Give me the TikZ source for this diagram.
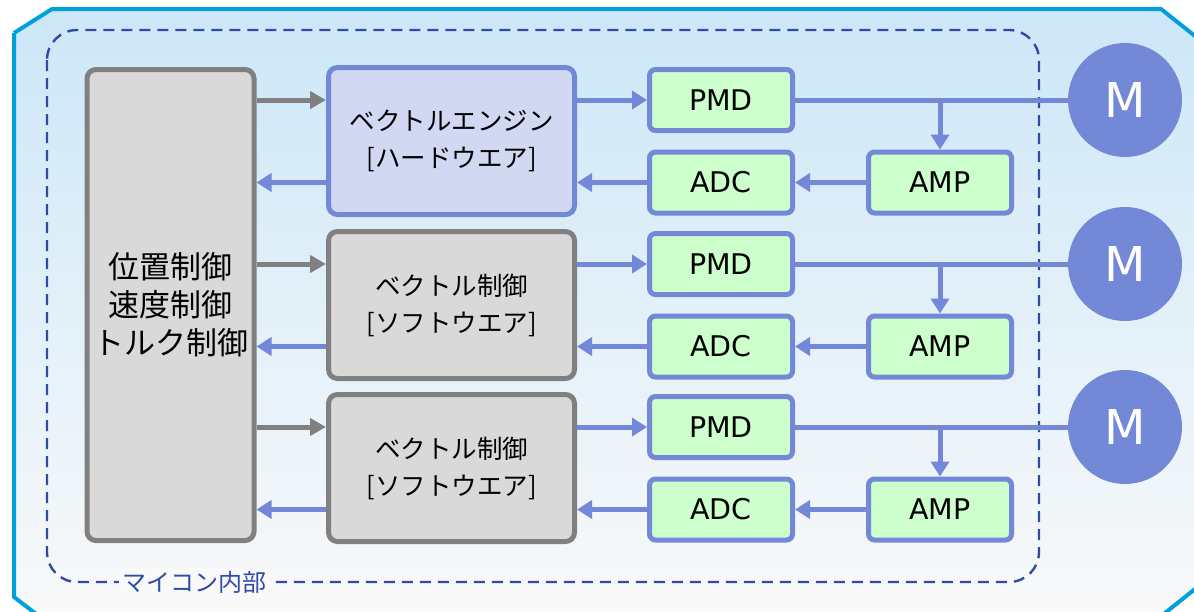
\documentclass[tikz,border=0pt]{standalone}
\usepackage{fontspec}
\setmainfont{DejaVu Sans}
\newfontfamily\jp{Noto Sans CJK JP}
\usetikzlibrary{arrows.meta,calc}

\definecolor{frameblue}{RGB}{0,160,220}
\definecolor{bgtop}{RGB}{204,231,248}
\definecolor{bgbot}{RGB}{249,249,249}
\definecolor{dashblue}{RGB}{47,75,165}
\definecolor{linkblue}{RGB}{115,137,216}
\definecolor{enginefill}{RGB}{208,216,242}
\definecolor{greybord}{RGB}{128,128,128}
\definecolor{greyfill}{RGB}{217,217,217}
\definecolor{unitfill}{RGB}{204,255,204}

\tikzset{
  ctrlbox/.style={draw=greybord, fill=greyfill, line width=5pt, rounded corners=9pt,
    minimum width=167pt, minimum height=471pt, align=center, inner sep=0pt,
    font=\jp\fontsize{31}{38}\selectfont},
  enginebox/.style={draw=linkblue, fill=enginefill, line width=5pt, rounded corners=9pt,
    minimum width=246pt, minimum height=147pt, align=center, inner sep=0pt,
    font=\jp\fontsize{25.5}{37}\selectfont},
  swbox/.style={enginebox, draw=greybord, fill=greyfill},
  unitbox/.style={draw=linkblue, fill=unitfill, line width=5pt, rounded corners=6pt,
    minimum width=143pt, minimum height=61pt, inner sep=0pt,
    font=\fontsize{28.5}{30}\selectfont},
  motor/.style={circle, fill=linkblue, minimum size=114pt, inner sep=0pt,
    text=white, font=\fontsize{48}{50}\selectfont},
  garrow/.style={draw=greybord, line width=5pt, -{Triangle[length=16pt,width=17pt]}},
  barrow/.style={draw=linkblue, line width=5pt, -{Triangle[length=15pt,width=18pt]}},
  bline/.style={draw=linkblue, line width=5pt},
}

\begin{document}
\begin{tikzpicture}[x=1pt, y=-1pt]
\useasboundingbox (0,0) rectangle (1194,611);
\clip (0,0) rectangle (1194,611);

% chip outline with soft vertical gradient
\path[top color=bgtop, bottom color=bgbot]
  (14,33) -- (52,9) -- (1161,9) -- (1200,40) -- (1200,585) -- (1160,617)
  -- (40,617) -- (14,597) -- cycle;
\draw[frameblue, line width=4pt, line join=miter]
  (14,33) -- (52,9) -- (1161,9) -- (1200,40) (1200,585) -- (1160,617)
  (40,617) -- (14,597) -- (14,33);

% microcontroller boundary
\draw[dashblue, line width=2.4pt, dash pattern=on 11pt off 7pt, rounded corners=30pt]
  (47,30) rectangle (1039,582);
\node[fill=bgbot, text=dashblue, inner sep=3pt, font=\jp\fontsize{24}{26}\selectfont]
  (mcu) at (194,582) {マイコン内部};

% control block
\node[ctrlbox] (ctrl) at (170.5,305) {位置制御\\速度制御\\トルク制御};

% vector control blocks
\node[enginebox] (box1) at (451.5,141) {ベクトルエンジン\\{[}ハードウエア{]}};
\node[swbox] (box2) at (451.5,305) {ベクトル制御\\{[}ソフトウエア{]}};
\node[swbox] (box3) at (451.5,468) {ベクトル制御\\{[}ソフトウエア{]}};

% per-axis units and motors
\foreach \r/\dy in {1/0, 2/164, 3/327} {
  \node[unitbox] (pmd\r) at (721,100+\dy) {PMD};
  \node[unitbox] (adc\r) at (721,182.5+\dy) {ADC};
  \node[unitbox] (amp\r) at (940,182.5+\dy) {AMP};
  \node[motor] (m\r) at (1125,100+\dy) {M};
}

% connections
\foreach \r in {1,2,3} {
  \draw[garrow] (ctrl.east |- pmd\r.west) -- (box\r.west |- pmd\r.west);
  \draw[barrow] (box\r.west |- adc\r.west) -- (ctrl.east |- adc\r.west);
  \draw[barrow] (box\r.east |- pmd\r.west) -- (pmd\r.west);
  \draw[barrow] (adc\r.west) -- (box\r.east |- adc\r.west);
  \draw[barrow] (amp\r.west) -- (adc\r.east);
  \draw[bline] (pmd\r.east) -- (m\r.west);
  \coordinate (tap\r) at (amp\r.north |- pmd\r.east);
  \draw[barrow] (tap\r) -- (amp\r.north);
}
\end{tikzpicture}
\end{document}
